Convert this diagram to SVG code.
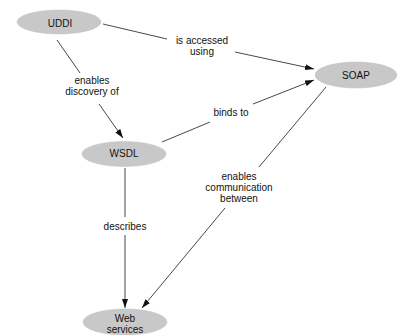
<svg xmlns="http://www.w3.org/2000/svg" width="401" height="335" viewBox="0 0 401 335">
<style>
.n{fill:#c8c8c8;stroke:#bdbdbd;stroke-width:0.5}
.t{font-family:"Liberation Sans",Arial,sans-serif;font-size:10px;fill:#111;text-anchor:middle}
.e{stroke:#333;stroke-width:0.9;fill:none}
</style>
<defs>
<marker id="a" markerUnits="userSpaceOnUse" markerWidth="9" markerHeight="6" refX="9" refY="3" orient="auto">
<path d="M0,0 L9,3 L0,6 z" fill="#111"/>
</marker>
</defs>
<rect width="401" height="335" fill="#fff"/>
<g id="edges">
<line class="e" x1="103" y1="24" x2="167" y2="39"/>
<line class="e" x1="235" y1="52" x2="314" y2="69" marker-end="url(#a)"/>
<text class="t" x="202" y="44">is accessed</text>
<text class="t" x="202" y="55">using</text>
<line class="e" x1="57" y1="40" x2="80" y2="73"/>
<line class="e" x1="99" y1="104" x2="123" y2="138" marker-end="url(#a)"/>
<text class="t" x="92" y="84">enables</text>
<text class="t" x="92" y="95">discovery of</text>
<line class="e" x1="162" y1="142" x2="210" y2="122"/>
<line class="e" x1="253" y1="104" x2="314" y2="80" marker-end="url(#a)"/>
<text class="t" x="231" y="116">binds to</text>
<line class="e" x1="326" y1="87" x2="259" y2="167"/>
<line class="e" x1="225" y1="208" x2="142" y2="308" marker-end="url(#a)"/>
<text class="t" x="239" y="180">enables</text>
<text class="t" x="239" y="191">communication</text>
<text class="t" x="239" y="202">between</text>
<line class="e" x1="125" y1="168" x2="125" y2="217"/>
<line class="e" x1="125" y1="235" x2="125" y2="308" marker-end="url(#a)"/>
<text class="t" x="125" y="230">describes</text>
</g>
<g id="uddi">
<ellipse class="n" cx="59" cy="22" rx="42" ry="12"/>
<text class="t" x="60" y="27">UDDI</text>
</g>
<g id="wsdl">
<ellipse class="n" cx="124" cy="154" rx="42" ry="12.5"/>
<text class="t" x="124" y="157">WSDL</text>
</g>
<g id="soap">
<ellipse class="n" cx="356" cy="75" rx="41" ry="13"/>
<text class="t" x="356" y="79">SOAP</text>
</g>
<g id="webservices">
<ellipse class="n" cx="125" cy="322" rx="42" ry="13"/>
<text class="t" x="125" y="322">Web</text>
<text class="t" x="125" y="333">services</text>
</g>
</svg>
